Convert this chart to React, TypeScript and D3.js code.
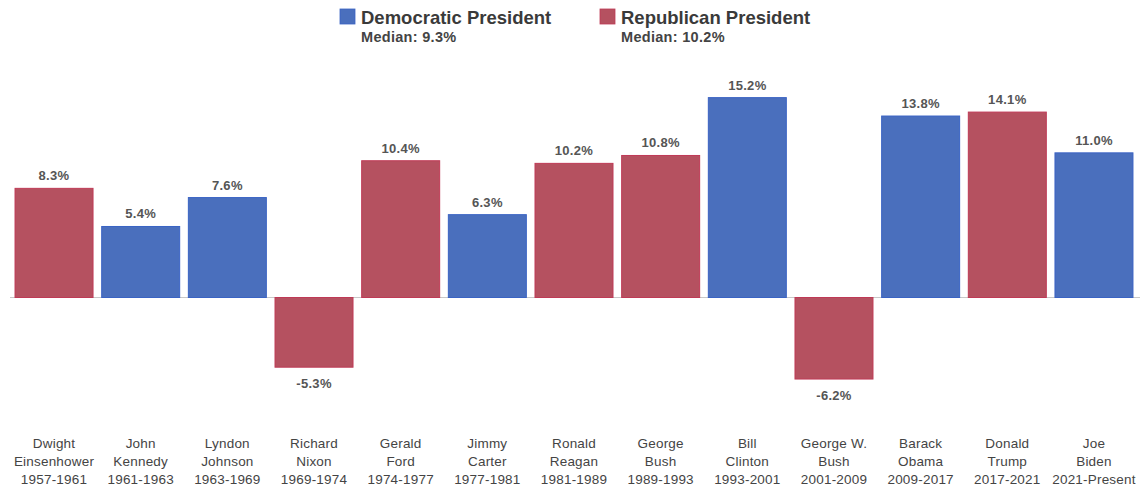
import React from "react";
import * as d3 from "d3";

const names: string[][] = [
  ["Dwight", "Einsenhower", "1957-1961"],
  ["John", "Kennedy", "1961-1963"],
  ["Lyndon", "Johnson", "1963-1969"],
  ["Richard", "Nixon", "1969-1974"],
  ["Gerald", "Ford", "1974-1977"],
  ["Jimmy", "Carter", "1977-1981"],
  ["Ronald", "Reagan", "1981-1989"],
  ["George", "Bush", "1989-1993"],
  ["Bill", "Clinton", "1993-2001"],
  ["George W.", "Bush", "2001-2009"],
  ["Barack", "Obama", "2009-2017"],
  ["Donald", "Trump", "2017-2021"],
  ["Joe", "Biden", "2021-Present"],
];
const values: number[] = [8.3, 5.4, 7.6, -5.3, 10.4, 6.3, 10.2, 10.8, 15.2, -6.2, 13.8, 14.1, 11.0];
const parties: string[] = ["R", "D", "D", "R", "R", "D", "R", "R", "D", "R", "D", "R", "D"];
const legendItems = [
  { key: "D", label: "Democratic President", median: "Median: 9.3%" },
  { key: "R", label: "Republican President", median: "Median: 10.2%" },
];

const FILL: Record<string, string> = { D: "#4a6fbd", R: "#b55160" };
const STROKE: Record<string, string> = { D: "#3a63c4", R: "#bf3a56" };

export default function App() {
  const W = 1148, H = 488;
  const x = d3.scaleBand<number>()
    .domain(values.map((_, i) => i))
    .range([10.7, 1137.3])
    .paddingInner(0.1)
    .paddingOuter(0.05);
  const y = d3.scaleLinear().domain([-8, 16]).range([402.7, 87.1]);
  const font = "Liberation Sans, Arial, Helvetica, sans-serif";
  const legendX = [340, 600];
  return (
    <div style={{ position: "absolute", left: 0, top: 0 }}>
      <svg width={W} height={H} style={{ display: "block", background: "#fff" }} fontFamily={font}>
        {legendItems.map((l, i) => (
          <g key={l.key} transform={`translate(${legendX[i]},0)`}>
            <rect x={0} y={9} width={15} height={15} fill={FILL[l.key]} stroke={STROKE[l.key]} strokeWidth={0.8} />
            <text x={21} y={24} fontSize={18.5} fontWeight={700} fill="#3a3a3a">{l.label}</text>
            <text x={21} y={42} fontSize={14.5} fontWeight={700} fill="#444" letterSpacing={0.3}>{l.median}</text>
          </g>
        ))}
        <line x1={10} x2={1140} y1={y(0)} y2={y(0)} stroke="#c8c8c8" strokeWidth={1.2} />
        {values.map((v, i) => {
          const bx = x(i)!;
          const bw = x.bandwidth();
          const top = y(Math.max(0, v));
          const h = Math.abs(y(v) - y(0));
          const cx = bx + bw / 2;
          const ly = v >= 0 ? y(v) - 8 : y(v) + 21;
          return (
            <g key={i}>
              <rect x={bx} y={top} width={bw} height={h} fill={FILL[parties[i]]} stroke={STROKE[parties[i]]} strokeWidth={1} />
              <text x={cx} y={ly} textAnchor="middle" fontSize={13} fontWeight={700} fill="#555" letterSpacing={0.3}>
                {v.toFixed(1)}%
              </text>
              {names[i].map((line, j) => (
                <text key={j} x={cx} y={448 + j * 18} textAnchor="middle" fontSize={13.5} fill="#444" letterSpacing={0.2}>
                  {line}
                </text>
              ))}
            </g>
          );
        })}
      </svg>
    </div>
  );
}
